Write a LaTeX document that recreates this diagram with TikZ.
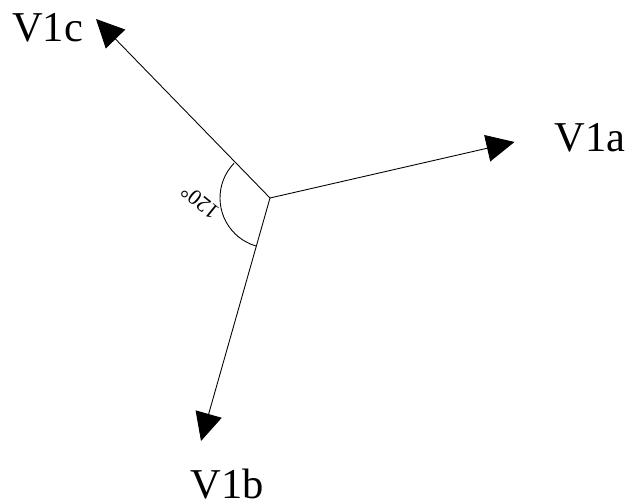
\documentclass[tikz,border=0pt]{standalone}
\usepackage{fontspec}
\setmainfont{Liberation Serif}
\usetikzlibrary{arrows.meta}

\begin{document}
\begin{tikzpicture}
    [phasor/.style={draw,line width=0.5pt,-{Triangle[length=0.56cm,width=0.54cm]}},
    phase label/.style={font=\fontsize{24.2}{26}\selectfont,anchor=base,inner sep=0pt},
    angle label/.style={font=\fontsize{12.5}{14}\selectfont,inner sep=0pt}]

    \useasboundingbox (0,0) rectangle (12.58,10.08);

    %%% content
    \coordinate (center) at (5.40,6.12);
    \coordinate (tipA) at (10.29,7.24);
    \coordinate (tipB) at (4.02,1.26);
    \coordinate (tipC) at (1.92,9.70);

    \node (labelA) [phase label] at (11.80,7.04) {V1a};
    \node (labelB) [phase label] at (4.55,0.10) {V1b};
    \node (labelC) [phase label] at (0.95,9.24) {V1c};
    \node (angleText) [angle label,rotate=141] at (4.00,6.04) {120°};

    %% lines
    \draw[phasor] (center) -- (tipA);
    \draw[phasor] (center) -- (tipB);
    \draw[phasor] (center) -- (tipC);
    \draw[line width=0.5pt] (center) ++(136:1) arc[start angle=136,end angle=254,radius=1];
\end{tikzpicture}
\end{document}
